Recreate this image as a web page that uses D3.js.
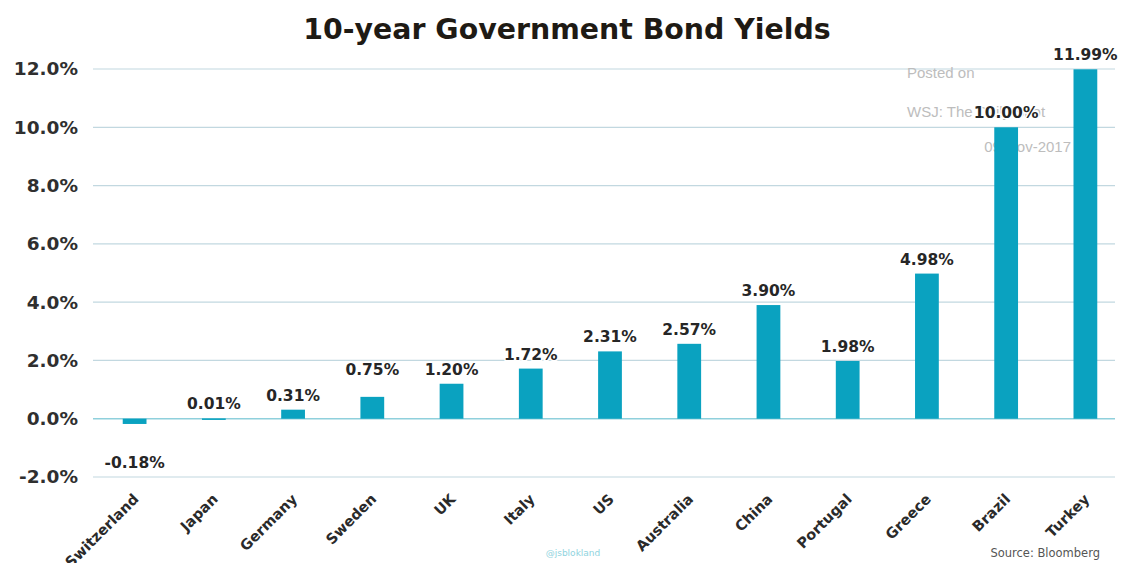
<!DOCTYPE html>
<html>
<head>
<meta charset="utf-8">
<script src="https://cdn.jsdelivr.net/npm/d3@7"></script>
<style>
  html, body { margin: 0; padding: 0; background: #fff; }
  svg { display: block; }
</style>
</head>
<body>
<svg id="chart" width="1121" height="563"></svg>
<script>
const categories = ["Switzerland", "Japan", "Germany", "Sweden", "UK", "Italy", "US", "Australia", "China", "Portugal", "Greece", "Brazil", "Turkey"];
const yields = [-0.18, 0.01, 0.31, 0.75, 1.20, 1.72, 2.31, 2.57, 3.90, 1.98, 4.98, 10.00, 11.99];
const yTicks = [-2, 0, 2, 4, 6, 8, 10, 12];
const title = "10-year Government Bond Yields";
const watermark = ["Posted on", "WSJ: The Daily Shot", "09-Nov-2017"];
const source = "Source: Bloomberg";
const handle = "@jsblokland";

const svg = d3.select("#chart");

const x = d3.scaleBand().domain(categories).range([95, 1125]).paddingInner(0.7).paddingOuter(0.35);
const y = d3.scaleLinear().domain([-2, 12]).range([477, 69]);

const barColor = "#0aa2c0";
const gridColor = "#c2d8e0";
const hyphen = s => s.replace("\u2212", "-");

// title
svg.append("text")
  .attr("x", 567).attr("y", 39)
  .attr("text-anchor", "middle")
  .attr("font-family", "DejaVu Sans, Verdana, sans-serif")
  .attr("font-weight", "bold")
  .attr("font-size", 28.4)
  .attr("fill", "#1e1a14")
  .text(title);

// grid lines
const gridX0 = 93, gridX1 = 1115;
svg.append("g").selectAll("line")
  .data(yTicks)
  .join("line")
  .attr("x1", gridX0).attr("x2", gridX1)
  .attr("y1", d => y(d)).attr("y2", d => y(d))
  .attr("stroke", d => d === 0 ? "#8fd0dc" : gridColor)
  .attr("stroke-width", d => d === 0 ? 1.5 : 1.2);

// y axis labels
const yAxis = d3.axisLeft(y).tickValues(yTicks).tickSize(0).tickPadding(0)
  .tickFormat(d => hyphen(d3.format(".1f")(d)) + "%");
const yg = svg.append("g").attr("transform", "translate(78,0)").call(yAxis);
yg.select(".domain").remove();
yg.selectAll("text")
  .attr("font-family", "DejaVu Sans, Verdana, sans-serif")
  .attr("font-weight", "bold")
  .attr("font-size", 18.5)
  .attr("fill", "#2f2f2f");

// watermark
const wm = svg.append("g")
  .attr("font-family", "Liberation Sans, Arial, sans-serif")
  .attr("font-size", 15)
  .attr("fill", "#bdbdbd");
wm.append("text").attr("x", 907).attr("y", 78).text(watermark[0]);
wm.append("text").attr("x", 907).attr("y", 117).text(watermark[1]);
wm.append("text").attr("x", 1071).attr("y", 152).attr("text-anchor", "end").text(watermark[2]);

// bars
svg.append("g").selectAll("rect")
  .data(yields)
  .join("rect")
  .attr("x", (d, i) => x(categories[i]))
  .attr("width", x.bandwidth())
  .attr("y", d => y(Math.max(0, d)))
  .attr("height", d => Math.max(1.5, Math.abs(y(d) - y(0))))
  .attr("fill", barColor);

// value labels
const labelNudge = { "Sweden": -13 };
svg.append("g").selectAll("text")
  .data(yields)
  .join("text")
  .attr("x", (d, i) => x(categories[i]) + x.bandwidth() / 2)
  .attr("y", (d, i) => d < 0 ? y(0) + 49 : y(d) - 9 + (labelNudge[categories[i]] || 0))
  .attr("text-anchor", "middle")
  .attr("font-family", "DejaVu Sans, Verdana, sans-serif")
  .attr("font-weight", "bold")
  .attr("font-size", 15.5)
  .attr("fill", "#262626")
  .attr("stroke", "#fff").attr("stroke-width", 3).attr("paint-order", "stroke")
  .text(d => hyphen(d3.format(".2f")(d)) + "%");

// x axis labels
const xg = svg.append("g").attr("transform", "translate(0,500)");
xg.selectAll("text")
  .data(categories)
  .join("text")
  .attr("transform", d => `translate(${x(d) + x.bandwidth() / 2 + 5},0) rotate(-45)`)
  .attr("text-anchor", "end")
  .attr("font-family", "DejaVu Sans, Verdana, sans-serif")
  .attr("font-weight", "bold")
  .attr("font-size", 14.5)
  .attr("fill", "#2a2a2a")
  .text(d => d);

// source
svg.append("text")
  .attr("x", 1100).attr("y", 557)
  .attr("text-anchor", "end")
  .attr("font-family", "DejaVu Sans, Verdana, sans-serif")
  .attr("font-size", 11.5)
  .attr("fill", "#555")
  .text(source);

// handle
svg.append("text")
  .attr("x", 573).attr("y", 556)
  .attr("text-anchor", "middle")
  .attr("font-family", "DejaVu Sans, Verdana, sans-serif")
  .attr("font-size", 9)
  .attr("fill", "#8fd3de")
  .text(handle);
</script>
</body>
</html>
